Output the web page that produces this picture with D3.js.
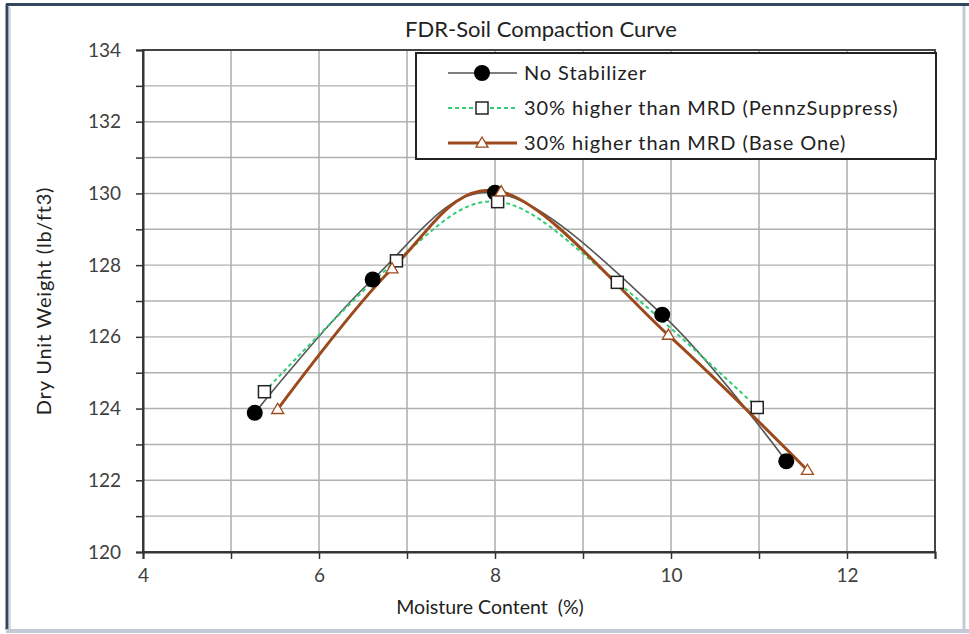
<!DOCTYPE html>
<html>
<head>
<meta charset="utf-8">
<script src="https://cdn.jsdelivr.net/npm/d3@7"></script>
<style>
  html, body { margin: 0; padding: 0; background: #fff; }
  svg { display: block; font-family: Lato, "Open Sans", sans-serif; }
</style>
</head>
<body>
<svg id="chart" width="969" height="634"></svg>
<script>
// Compaction test results: moisture content (%) vs dry unit weight (lb/ft3)
const seriesNames = [
  "No Stabilizer",
  "30% higher than MRD (PennzSuppress)",
  "30% higher than MRD (Base One)"
];
const noStabMoisture = [5.27, 6.61, 8.0, 9.9, 11.31];
const noStabWeight   = [123.88, 127.6, 130.02, 126.62, 122.53];
const pennzMoisture  = [5.38, 6.88, 8.03, 9.39, 10.98];
const pennzWeight    = [124.47, 128.12, 129.77, 127.52, 124.03];
const baseMoisture   = [5.53, 6.83, 8.07, 9.97, 11.55];
const baseWeight     = [123.98, 127.9, 130.05, 126.05, 122.28];

const xTicks = [4, 6, 8, 10, 12];
const yTicks = [120, 122, 124, 126, 128, 130, 132, 134];

const svg = d3.select("#chart");
const W = 969, H = 634;

// outer frame
svg.append("rect").attr("x", 0).attr("y", 0).attr("width", W).attr("height", H).attr("fill", "#fff");
svg.append("line").attr("x1", 7).attr("x2", 7).attr("y1", 4).attr("y2", 630)
  .attr("stroke", "#34465e").attr("stroke-width", 3);
svg.append("line").attr("x1", 10).attr("x2", 10).attr("y1", 7).attr("y2", 630)
  .attr("stroke", "#c9d0da").attr("stroke-width", 1.5);
svg.append("line").attr("x1", 6).attr("x2", 969).attr("y1", 4.5).attr("y2", 4.5)
  .attr("stroke", "#34465e").attr("stroke-width", 3);
svg.append("line").attr("x1", 964).attr("x2", 964).attr("y1", 6).attr("y2", 630)
  .attr("stroke", "#c3cad5").attr("stroke-width", 3);
svg.append("line").attr("x1", 6).attr("x2", 969).attr("y1", 631).attr("y2", 631)
  .attr("stroke", "#c3cad5").attr("stroke-width", 4);

const plot = { left: 143, right: 935, top: 50, bottom: 552 };
const x = d3.scaleLinear().domain([4, 13]).range([plot.left, plot.right]);
const y = d3.scaleLinear().domain([120, 134]).range([plot.bottom, plot.top]);

// gridlines every unit
const g = svg.append("g");
g.selectAll(".vgrid").data(d3.range(5, 13)).join("line")
  .attr("x1", d => x(d)).attr("x2", d => x(d))
  .attr("y1", plot.top).attr("y2", plot.bottom)
  .attr("stroke", "#999").attr("stroke-width", 1.2);
g.selectAll(".hgrid").data(d3.range(121, 134)).join("line")
  .attr("x1", plot.left).attr("x2", plot.right)
  .attr("y1", d => y(d)).attr("y2", d => y(d))
  .attr("stroke", "#b0b0b0").attr("stroke-width", 1.4);

// plot border
svg.append("rect").attr("x", plot.left).attr("y", plot.top)
  .attr("width", plot.right - plot.left).attr("height", plot.bottom - plot.top)
  .attr("fill", "none").attr("stroke", "#444").attr("stroke-width", 2);

// axes
const xAxis = d3.axisBottom(x).tickValues(d3.range(4, 14)).tickSize(7)
  .tickFormat(d => xTicks.includes(d) ? d : "");
const gx = svg.append("g").attr("transform", `translate(0,${plot.bottom})`).call(xAxis);
gx.select(".domain").attr("stroke", "#333").attr("stroke-width", 2);
gx.selectAll(".tick line").attr("stroke", "#333").attr("stroke-width", 1.5);
gx.selectAll(".tick text").attr("font-size", 19).attr("fill", "#404040").attr("y", 17)
  .attr("font-family", "Lato, sans-serif");

const yAxis = d3.axisLeft(y).tickValues(d3.range(120, 135)).tickSize(7)
  .tickFormat(d => yTicks.includes(d) ? d : "");
const gy = svg.append("g").attr("transform", `translate(${plot.left},0)`).call(yAxis);
gy.select(".domain").attr("stroke", "#333").attr("stroke-width", 2);
gy.selectAll(".tick line").attr("stroke", "#333").attr("stroke-width", 1.5);
gy.selectAll(".tick text").attr("font-size", 19).attr("fill", "#404040").attr("x", -22)
  .attr("font-family", "Lato, sans-serif");

// titles
svg.append("text").attr("x", 541).attr("y", 37).attr("text-anchor", "middle")
  .attr("font-size", 22).attr("fill", "#222").text("FDR-Soil Compaction Curve");
svg.append("text").attr("x", 490).attr("y", 614).attr("text-anchor", "middle")
  .attr("font-size", 19.5).attr("fill", "#222").attr("xml:space", "preserve")
  .text("Moisture Content  (%)");
svg.append("text").attr("transform", `translate(51,${(plot.top + plot.bottom) / 2}) rotate(-90)`)
  .attr("text-anchor", "middle").attr("font-size", 20).attr("fill", "#222")
  .attr("letter-spacing", 0.8)
  .text("Dry Unit Weight (lb/ft3)");

// series
const series = [
  { name: seriesNames[0], xs: noStabMoisture, ys: noStabWeight, color: "#555", width: 1.6, dash: null, marker: "circle" },
  { name: seriesNames[1], xs: pennzMoisture, ys: pennzWeight, color: "#33cc77", width: 2, dash: "4,3", marker: "square" },
  { name: seriesNames[2], xs: baseMoisture, ys: baseWeight, color: "#9c4a1c", width: 3, dash: null, marker: "triangle" }
];

const line = d3.line().x(d => x(d[0])).y(d => y(d[1])).curve(d3.curveCardinal.tension(0));

function drawMarker(sel, type, cx, cy, color) {
  if (type === "circle") {
    sel.append("circle").attr("cx", cx).attr("cy", cy).attr("r", 8).attr("fill", "#000");
  } else if (type === "square") {
    sel.append("rect").attr("x", cx - 6).attr("y", cy - 6).attr("width", 12).attr("height", 12)
      .attr("fill", "#fff").attr("stroke", "#222").attr("stroke-width", 1.5);
  } else {
    const s = 6;
    sel.append("path").attr("d", `M${cx},${cy - s}L${cx + s},${cy + s * 0.7}L${cx - s},${cy + s * 0.7}Z`)
      .attr("fill", "#fff").attr("stroke", "#9c4a1c").attr("stroke-width", 1.3);
  }
}

const lines = svg.append("g");
series.forEach(s => {
  const pts = s.xs.map((v, i) => [v, s.ys[i]]);
  lines.append("path").datum(pts).attr("d", line)
    .attr("fill", "none").attr("stroke", s.color).attr("stroke-width", s.width)
    .attr("stroke-dasharray", s.dash);
});
series.forEach(s => {
  const mg = svg.append("g");
  s.xs.forEach((v, i) => drawMarker(mg, s.marker, x(v), y(s.ys[i]), s.color));
});

// legend
const lg = svg.append("g");
lg.append("rect").attr("x", 416).attr("y", 53).attr("width", 520).attr("height", 106)
  .attr("fill", "#fff").attr("stroke", "#222").attr("stroke-width", 2);
series.forEach((s, i) => {
  const ly = 73 + i * 35;
  lg.append("line").attr("x1", 448).attr("x2", 517).attr("y1", ly).attr("y2", ly)
    .attr("stroke", s.color).attr("stroke-width", s.width).attr("stroke-dasharray", s.dash);
  drawMarker(lg, s.marker, 482, ly, s.color);
  lg.append("text").attr("x", 524).attr("y", ly + 7).attr("font-size", 20).attr("fill", "#222")
    .attr("letter-spacing", 0.9)
    .text(s.name);
});
</script>
</body>
</html>
